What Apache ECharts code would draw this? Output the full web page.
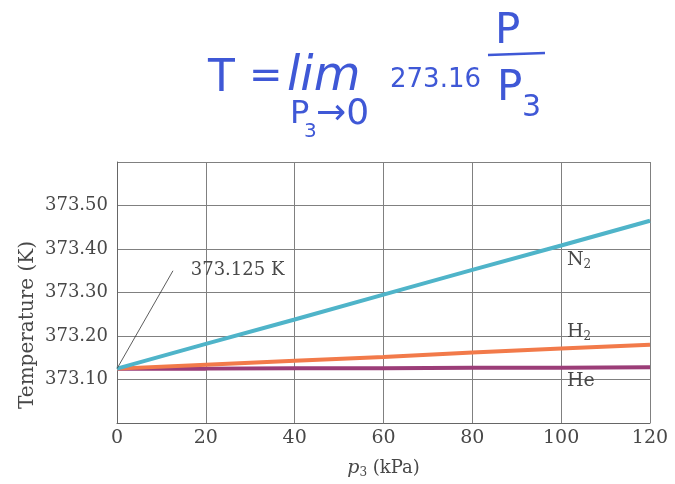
<!DOCTYPE html>
<html><head><meta charset="utf-8">
<script src="https://cdn.jsdelivr.net/npm/echarts@6/dist/echarts.min.js"></script>
<style>html,body{margin:0;padding:0;background:#fff}#c{width:675px;height:484px}</style>
</head><body><div id="c"></div>
<script>
const pressures = [0, 20, 40, 60, 80, 100, 120];
const n2 = [373.125, 373.182, 373.238, 373.295, 373.352, 373.408, 373.465];
const h2 = [373.125, 373.134, 373.143, 373.152, 373.162, 373.171, 373.180];
const he = [373.125, 373.125, 373.126, 373.126, 373.127, 373.127, 373.128];
const yTickLabels = ['373.10', '373.20', '373.30', '373.40', '373.50'];
const annotationText = '373.125 K';

const serif = '"DejaVu Serif", "Liberation Serif", serif';
const txt = '#484848';
const pairs = a => pressures.map((p, i) => [p, a[i]]);
const chart = echarts.init(document.getElementById('c'));
const blue = '#3f58d6';
chart.setOption({
  animation: false,
  backgroundColor: '#fff',
  grid: {left: 117, right: 25, top: 162, bottom: 50},
  xAxis: {
    type: 'value', min: 0, max: 120, interval: 20,
    name: '{i|p}{s|3} (kPa)', nameLocation: 'middle', nameGap: 35,
    nameTextStyle: {fontFamily: serif, fontSize: 18, color: txt,
      rich: {i: {fontFamily: serif, fontStyle: 'italic', fontSize: 19, color: txt},
             s: {fontFamily: serif, fontSize: 12, color: txt, verticalAlign: 'bottom', padding: [9,0,0,0]}}},
    axisLine: {show: true, lineStyle: {color: '#666', width: 1}},
    axisTick: {show: false},
    axisLabel: {fontFamily: serif, fontSize: 19, color: txt, margin: 6},
    splitLine: {show: true, lineStyle: {color: '#808080', width: 1}}
  },
  yAxis: {
    type: 'value', min: 373.0, max: 373.6, interval: 0.1,
    axisLine: {show: true, lineStyle: {color: '#666', width: 1}},
    axisTick: {show: false},
    axisLabel: {fontFamily: serif, fontSize: 18, color: txt, margin: 9,
      formatter: v => { const s = v.toFixed(2); return yTickLabels.includes(s) ? s : ''; }},
    splitLine: {show: true, lineStyle: {color: '#808080', width: 1}}
  },
  series: [
    {name: 'He', type: 'line', data: pairs(he), symbol: 'none',
     lineStyle: {color: '#9b3d78', width: 4},
     markLine: {silent: true, symbol: 'none',
       lineStyle: {color: '#333', width: 0.8, type: 'solid'},
       label: {show: false},
       data: [[{coord: [0, 373.125]}, {coord: [12.6, 373.35]}]]}},
    {name: 'H2', type: 'line', data: pairs(h2), symbol: 'none', lineStyle: {color: '#f27a4a', width: 4}},
    {name: 'N2', type: 'line', data: pairs(n2), symbol: 'none', lineStyle: {color: '#4fb4c9', width: 4}}
  ]
});

const px = (x, y) => chart.convertToPixel({gridIndex: 0}, [x, y]);
const sub = {fontFamily: serif, fontSize: 12, fill: txt, verticalAlign: 'bottom', padding: [9,0,0,0]};
const labels = [['N{s|2}', 101.3, 373.374], ['H{s|2}', 101.3, 373.208], ['He', 101.3, 373.096]];
const g = labels.map(([t, x, y]) => {
  const p = px(x, y);
  return {type: 'text', x: p[0], y: p[1],
    style: {text: t, fontFamily: serif, fontSize: 19, fill: txt, verticalAlign: 'middle', rich: {s: sub}}};
});
const ap = px(16.6, 373.35);
g.push({type: 'text', x: ap[0], y: ap[1], style: {text: annotationText, fontFamily: serif, fontSize: 18, fill: txt, verticalAlign: 'middle'}});
g.push({type: 'text', x: 28, y: 325, rotation: Math.PI / 2,
  style: {text: 'Temperature (K)', fontFamily: serif, fontSize: 20, fill: txt, align: 'center', verticalAlign: 'middle'}});

const hand = '"DejaVu Sans", sans-serif';
const H = (text, x, y, size, extra) => ({type: 'text', x, y,
  style: Object.assign({text, fontFamily: hand, fontSize: size, fill: blue, verticalAlign: 'middle'}, extra || {})});
g.push(
  H('T', 208, 80, 44),
  H('=', 249, 78, 40),
  H('lim', 287, 78, 48, {fontStyle: 'italic'}),
  H('273.16', 390, 80, 26),
  {type: 'line', shape: {x1: 488, y1: 55, x2: 545, y2: 53}, style: {stroke: blue, lineWidth: 2.5}},
  H('P', 495, 32, 42),
  H('P', 497, 89, 42),
  H('3', 522, 108, 30),
  H('P', 290, 115, 32),
  H('3', 304, 132, 20),
  H('→0', 316, 115, 36)
);
chart.setOption({graphic: g});
</script></body></html>
